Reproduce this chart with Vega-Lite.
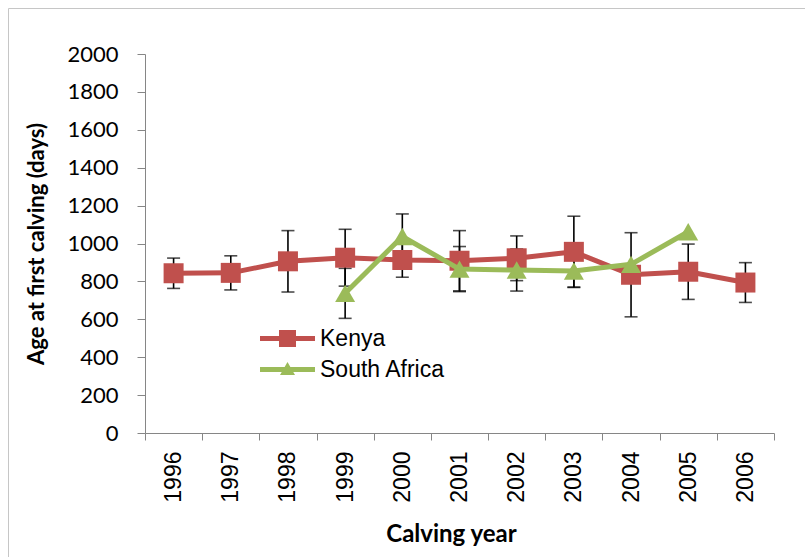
{
  "$schema": "https://vega.github.io/schema/vega-lite/v6.json",
  "width": 797,
  "height": 549,
  "autosize": {"type": "none"},
  "padding": {"left": 8, "top": 8, "right": 0, "bottom": 0},
  "background": "white",
  "view": {"stroke": "#c6c6c6", "strokeWidth": 1},
  "data": {
    "values": [
      {"year": "1996", "country": "Kenya", "age": 843, "err": 80},
      {"year": "1997", "country": "Kenya", "age": 845, "err": 90},
      {"year": "1998", "country": "Kenya", "age": 906, "err": 162},
      {"year": "1999", "country": "Kenya", "age": 925, "err": 150},
      {"year": "2000", "country": "Kenya", "age": 913, "err": 91},
      {"year": "2001", "country": "Kenya", "age": 909, "err": 159},
      {"year": "2002", "country": "Kenya", "age": 922, "err": 118},
      {"year": "2003", "country": "Kenya", "age": 956, "err": 188},
      {"year": "2004", "country": "Kenya", "age": 835, "err": 222},
      {"year": "2005", "country": "Kenya", "age": 851, "err": 146},
      {"year": "2006", "country": "Kenya", "age": 794, "err": 105},
      {"year": "1999", "country": "South Africa", "age": 737, "err": 132},
      {"year": "2000", "country": "South Africa", "age": 1037, "err": 119},
      {"year": "2001", "country": "South Africa", "age": 865, "err": 119},
      {"year": "2002", "country": "South Africa", "age": 860, "err": 111},
      {"year": "2003", "country": "South Africa", "age": 855, "err": 85},
      {"year": "2004", "country": "South Africa", "age": 890, "err": null},
      {"year": "2005", "country": "South Africa", "age": 1062, "err": null}
    ]
  },
  "encoding": {
    "x": {
      "field": "year",
      "type": "ordinal",
      "scale": {"range": [137, 766], "paddingInner": 0, "paddingOuter": 0},
      "axis": {
        "title": "Calving year",
        "offset": -124,
        "labelAngle": -90,
        "tickBand": "extent",
        "tickSize": 7,
        "tickColor": "#868686",
        "domainColor": "#868686",
        "labelPadding": 11,
        "labelFont": "Liberation Sans",
        "labelFontSize": 23,
        "labelColor": "black",
        "titleFont": "Lato",
        "titleFontSize": 24,
        "titleFontWeight": "bold",
        "titleColor": "black",
        "titlePadding": 20,
        "titleX": 443
      }
    },
    "y": {
      "field": "age",
      "type": "quantitative",
      "scale": {"domain": [0, 2000], "range": [425, 46], "nice": false, "zero": true},
      "axis": {
        "title": "Age at first calving (days)",
        "offset": -137,
        "values": [0, 200, 400, 600, 800, 1000, 1200, 1400, 1600, 1800, 2000],
        "format": "d",
        "grid": false,
        "labelOverlap": false,
        "tickSize": 8,
        "tickColor": "#868686",
        "domainColor": "#868686",
        "labelPadding": 19,
        "labelFont": "Lato",
        "labelFontSize": 22,
        "labelColor": "black",
        "titleFont": "Lato",
        "titleFontSize": 22,
        "titleFontWeight": "bold",
        "titleColor": "black",
        "titlePadding": 18
      }
    }
  },
  "layer": [
    {
      "transform": [{"filter": "datum.err != null"}],
      "mark": {
        "type": "errorbar",
        "color": "black",
        "ticks": {"size": 13, "thickness": 1.6, "color": "black"},
        "rule": {"strokeWidth": 1.6, "color": "black"}
      },
      "encoding": {
        "y": {"field": "age", "type": "quantitative"},
        "yError": {"field": "err"}
      }
    },
    {
      "transform": [{"filter": "datum.country === 'Kenya'"}],
      "mark": {"type": "line", "strokeWidth": 5, "strokeJoin": "round", "strokeCap": "round"},
      "encoding": {
        "color": {
          "field": "country",
          "type": "nominal",
          "scale": {"domain": ["Kenya", "South Africa"], "range": ["#C0504D", "#9BBB59"]},
          "legend": {
            "orient": "none",
            "legendX": 268,
            "legendY": 319,
            "title": null,
            "padding": 0,
            "symbolSize": 400,
            "symbolStrokeWidth": 0,
            "symbolOpacity": 1,
            "labelFont": "Liberation Sans",
            "labelFontSize": 23,
            "labelColor": "black",
            "labelOffset": 21,
            "rowPadding": 7,
            "encode": {
              "symbols": {
                "update": {
                  "shape": {"signal": "datum.value === 'Kenya' ? 'M-2.75,-0.25H2.75V0.25H-2.75Z M-0.85,-0.85H0.85V0.85H-0.85Z' : 'M-2.75,-0.25H2.75V0.25H-2.75Z M-0.75,0.55L0,-0.75L0.75,0.55Z'"},
                  "fill": {"signal": "datum.value === 'Kenya' ? '#C0504D' : '#9BBB59'"},
                  "stroke": {"value": "transparent"},
                  "opacity": {"value": 1}
                }
              }
            }
          }
        }
      }
    },
    {
      "transform": [{"filter": "datum.country === 'Kenya'"}],
      "mark": {"type": "point", "shape": "square", "filled": true, "size": 400, "opacity": 1, "strokeWidth": 0},
      "encoding": {
        "color": {"field": "country", "type": "nominal"}
      }
    },
    {
      "transform": [{"filter": "datum.country === 'South Africa'"}],
      "mark": {"type": "line", "strokeWidth": 5, "strokeJoin": "round", "strokeCap": "round"},
      "encoding": {
        "color": {"field": "country", "type": "nominal"}
      }
    },
    {
      "transform": [{"filter": "datum.country === 'South Africa'"}],
      "mark": {"type": "point", "shape": "triangle-up", "filled": true, "size": 400, "opacity": 1, "strokeWidth": 0},
      "encoding": {
        "color": {"field": "country", "type": "nominal"}
      }
    }
  ]
}
